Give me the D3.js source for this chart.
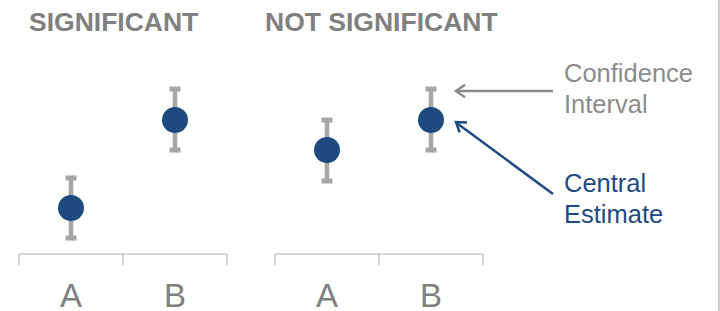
<!DOCTYPE html>
<html>
<head>
<meta charset="utf-8">
<script src="https://cdn.jsdelivr.net/npm/d3@7"></script>
<style>
  body { margin: 0; background: #fff; }
  svg { display: block; font-family: "Liberation Sans", Arial, sans-serif; }
</style>
</head>
<body>
<svg id="chart" width="720" height="311"></svg>
<script>
// panel titles and categories
const panels = ["SIGNIFICANT", "NOT SIGNIFICANT"];
const categories = ["A", "B"];
// central estimates and confidence bounds (arbitrary units), per panel
const estimates = [[23, 67], [52, 67]];
const lower = [[8, 52], [36.5, 52]];
const upper = [[38, 82.5], [67, 82.5]];

const svg = d3.select("#chart");
const grey = "#808080";
const ciGrey = "#a6a6a6";
const blue = "#1f4a80";

const y = d3.scaleLinear().domain([0, 100]).range([254, 54]);
const panelX = d3.scaleOrdinal().domain(panels).range([19, 275]);
const panelW = 208;

// right border line
svg.append("line")
  .attr("x1", 719).attr("x2", 719).attr("y1", 0).attr("y2", 311)
  .attr("stroke", "#b9bdc5").attr("stroke-width", 1.5);

panels.forEach((name, p) => {
  const x0 = panelX(name);
  const x = d3.scaleBand().domain(categories).range([x0, x0 + panelW]);
  const g = svg.append("g");

  g.append("text")
    .attr("x", p === 0 ? 29 : 265).attr("y", 31)
    .attr("font-size", 26.5).attr("font-weight", "bold")
    .attr("fill", grey).text(name);

  // axis with bracket ticks
  const axis = g.append("g");
  axis.append("line")
    .attr("x1", x0).attr("x2", x0 + panelW).attr("y1", 254).attr("y2", 254)
    .attr("stroke", "#c8c8c8").attr("stroke-width", 1.5);
  [x0, x0 + x.bandwidth(), x0 + panelW].forEach(t => {
    axis.append("line")
      .attr("x1", t).attr("x2", t).attr("y1", 254).attr("y2", 265)
      .attr("stroke", "#c8c8c8").attr("stroke-width", 1.5);
  });
  categories.forEach(c => {
    axis.append("text")
      .attr("x", x(c) + x.bandwidth() / 2).attr("y", 307)
      .attr("text-anchor", "middle").attr("font-size", 33)
      .attr("fill", grey).text(c);
  });

  categories.forEach((c, i) => {
    const cx = x(c) + x.bandwidth() / 2;
    const yl = y(lower[p][i]), yu = y(upper[p][i]);
    g.append("line")
      .attr("x1", cx).attr("x2", cx).attr("y1", yu).attr("y2", yl)
      .attr("stroke", ciGrey).attr("stroke-width", 4.5);
    [yu, yl].forEach(yy => {
      g.append("rect")
        .attr("x", cx - 5.5).attr("y", yy - 2.5)
        .attr("width", 11).attr("height", 5)
        .attr("fill", ciGrey);
    });
    g.append("circle")
      .attr("cx", cx).attr("cy", y(estimates[p][i])).attr("r", 13)
      .attr("fill", blue);
  });
});

// annotations
function arrowHead(x1, y1, x2, y2, color) {
  const a = Math.atan2(y2 - y1, x2 - x1);
  const len = 11, spread = 0.6;
  const p1 = [x2 - len * Math.cos(a - spread), y2 - len * Math.sin(a - spread)];
  const p2 = [x2 - len * Math.cos(a + spread), y2 - len * Math.sin(a + spread)];
  svg.append("path")
    .attr("d", `M${p1}L${x2},${y2}L${p2}`)
    .attr("fill", "none").attr("stroke", color)
    .attr("stroke-width", 2.5).attr("stroke-linejoin", "miter");
}

svg.append("line")
  .attr("x1", 553).attr("y1", 91).attr("x2", 457).attr("y2", 91)
  .attr("stroke", "#8c8c8c").attr("stroke-width", 2.5);
arrowHead(553, 91, 456, 91, "#8c8c8c");

svg.append("line")
  .attr("x1", 553).attr("y1", 194).attr("x2", 458).attr("y2", 124)
  .attr("stroke", blue).attr("stroke-width", 2.5);
arrowHead(553, 194, 456, 122, blue);

const ann = svg.append("g").attr("font-size", 25.5);
ann.append("text").attr("x", 564).attr("y", 82).attr("fill", "#8c8c8c").text("Confidence");
ann.append("text").attr("x", 564).attr("y", 113).attr("fill", "#8c8c8c").text("Interval");
ann.append("text").attr("x", 564).attr("y", 192).attr("fill", blue).text("Central");
ann.append("text").attr("x", 564).attr("y", 223).attr("fill", blue).text("Estimate");
</script>
</body>
</html>
